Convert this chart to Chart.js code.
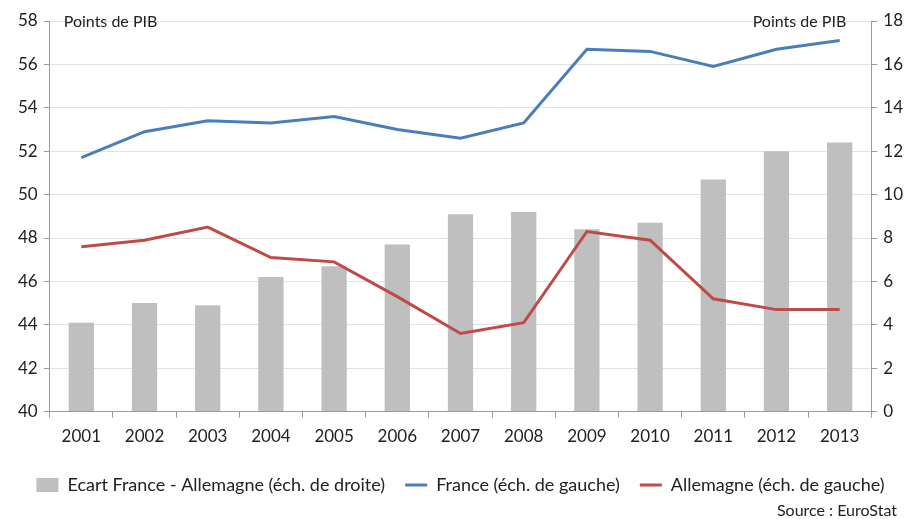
<!DOCTYPE html>
<html lang="fr">
<head>
    <meta charset="UTF-8">
    <title>France / Allemagne - Points de PIB</title>
    <script src="https://cdn.jsdelivr.net/npm/chart.js"></script>
    <style>
        body { margin: 0; background: #fff; }
        #wrap { width: 909px; height: 519px; position: relative; }
    </style>
</head>
<body>
    <div id="wrap"><canvas id="chart"></canvas></div>

    <script>
        const years = ['2001', '2002', '2003', '2004', '2005', '2006', '2007', '2008', '2009', '2010', '2011', '2012', '2013'];
        const ecart = [4.1, 5.0, 4.9, 6.2, 6.7, 7.7, 9.1, 9.2, 8.4, 8.7, 10.7, 12.0, 12.4];
        const france = [51.7, 52.9, 53.4, 53.3, 53.6, 53.0, 52.6, 53.3, 56.7, 56.6, 55.9, 56.7, 57.1];
        const allemagne = [47.6, 47.9, 48.5, 47.1, 46.9, 45.3, 43.6, 44.1, 48.3, 47.9, 45.2, 44.7, 44.7];

        const font = "Lato, 'Open Sans', sans-serif";
        const txt = '#222';
        const axisCol = '#9a9a9a';

        // "Points de PIB" au-dessus des axes + source
        const notes = {
            id: 'notes',
            afterDraw(chart) {
                const { ctx, chartArea } = chart;
                ctx.save();
                ctx.fillStyle = txt;
                ctx.font = '16px ' + font;
                ctx.textBaseline = 'middle';
                ctx.textAlign = 'left';
                ctx.fillText('Points de PIB', chartArea.left + 14, chartArea.top + 1);
                ctx.textAlign = 'right';
                ctx.fillText('Points de PIB', chartArea.right - 25, chartArea.top + 1);
                ctx.fillText('Source : EuroStat', 897, 511);
                ctx.restore();
            }
        };

        new Chart(document.getElementById('chart'), {
            type: 'bar',
            data: {
                labels: years,
                datasets: [
                    {
                        type: 'line',
                        label: 'France (éch. de gauche)',
                        data: france,
                        borderColor: '#4a7ebb',
                        backgroundColor: '#4a7ebb',
                        borderWidth: 3,
                        pointRadius: 0,
                        pointStyle: 'line',
                        tension: 0,
                        yAxisID: 'y',
                        order: 1
                    },
                    {
                        type: 'line',
                        label: 'Allemagne (éch. de gauche)',
                        data: allemagne,
                        borderColor: '#be4b48',
                        backgroundColor: '#be4b48',
                        borderWidth: 3,
                        pointRadius: 0,
                        pointStyle: 'line',
                        tension: 0,
                        yAxisID: 'y',
                        order: 0
                    },
                    {
                        label: 'Ecart France - Allemagne (éch. de droite)',
                        data: ecart,
                        backgroundColor: '#bfbfbf',
                        pointStyle: 'rect',
                        categoryPercentage: 1,
                        barPercentage: 0.4,
                        yAxisID: 'y1',
                        order: 2
                    }
                ]
            },
            options: {
                responsive: true,
                maintainAspectRatio: false,
                animation: false,
                layout: { padding: { left: 12, right: 0, top: 21, bottom: 15 } },
                plugins: {
                    tooltip: { enabled: false },
                    legend: {
                        position: 'bottom',
                        labels: {
                            usePointStyle: true,
                            pointStyleWidth: 22,
                            boxHeight: 14,
                            padding: 20,
                            color: txt,
                            font: { family: font, size: 18 },
                            sort: (a, b) => [2, 0, 1].indexOf(a.datasetIndex) - [2, 0, 1].indexOf(b.datasetIndex)
                        }
                    }
                },
                scales: {
                    x: {
                        grid: { drawOnChartArea: false, drawTicks: true, tickLength: 6, color: axisCol },
                        border: { color: axisCol },
                        ticks: { color: txt, font: { family: font, size: 17 }, padding: 9 }
                    },
                    y: {
                        position: 'left',
                        min: 40, max: 58,
                        ticks: { stepSize: 2, color: txt, font: { family: font, size: 17 }, padding: 6 },
                        grid: { color: '#e3e3e3', tickColor: axisCol, tickLength: 6 },
                        border: { color: axisCol }
                    },
                    y1: {
                        position: 'right',
                        min: 0, max: 18,
                        ticks: { stepSize: 2, color: txt, font: { family: font, size: 17 }, padding: 6 },
                        grid: { drawOnChartArea: false, color: axisCol, tickLength: 6 },
                        border: { color: axisCol }
                    }
                }
            },
            plugins: [notes]
        });
    </script>
</body>
</html>
